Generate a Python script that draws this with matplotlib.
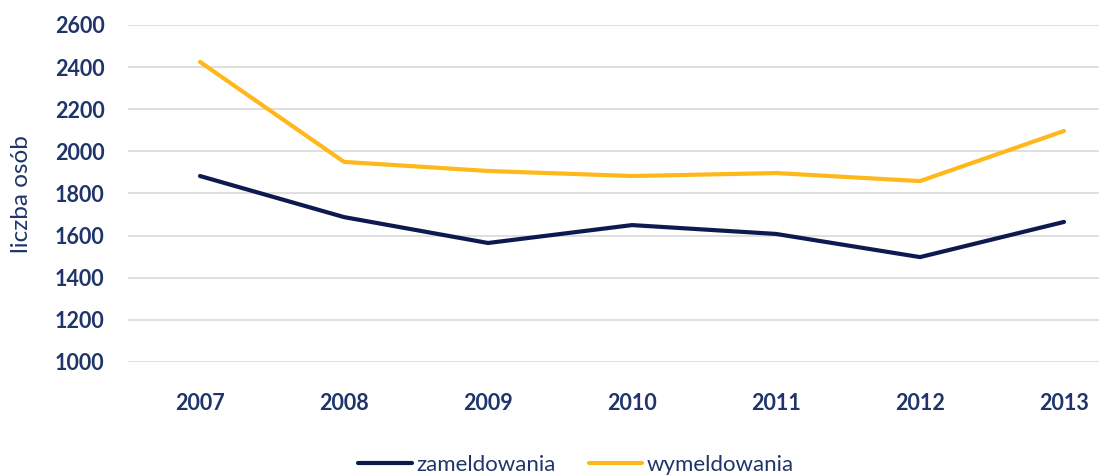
import matplotlib.pyplot as plt

years = ['2007', '2008', '2009', '2010', '2011', '2012', '2013']
zameldowania = [1883, 1688, 1565, 1650, 1608, 1498, 1665]
wymeldowania = [2425, 1950, 1907, 1883, 1897, 1859, 2097]

NAVY = '#0E1A4F'
GOLD = '#FFB81C'
TEXT = '#1F3469'

plt.rcParams['font.family'] = ['Lato', 'DejaVu Sans']

fig = plt.figure(figsize=(10.99, 4.76), dpi=100)
ax = fig.add_axes([128 / 1099, 114 / 476, 971 / 1099, 337 / 476])

x = range(len(years))
ax.plot(x, zameldowania, color=NAVY, lw=3, label='zameldowania', solid_capstyle='round')
ax.plot(x, wymeldowania, color=GOLD, lw=3, label='wymeldowania', solid_capstyle='round')

ax.set_xlim(-0.5, 6.243)
ax.set_ylim(1000, 2600)
ax.set_yticks(range(1000, 2601, 200))
ax.set_xticks(list(x))
ax.set_xticklabels(years)
ax.grid(axis='y', color='#D9D9D9', lw=1.2)
ax.set_axisbelow(True)
for s in ax.spines.values():
    s.set_visible(False)
ax.tick_params(length=0, labelsize=15.5, labelcolor=TEXT)
ax.tick_params(axis='x', pad=22)
ax.tick_params(axis='y', pad=17)
for lbl in ax.get_xticklabels() + ax.get_yticklabels():
    lbl.set_fontweight('bold')

fig.text(22 / 1099, (476 - 194) / 476, 'liczba osób', rotation=90, color=TEXT,
         fontsize=17.5, ha='center', va='center')

fig.legend(loc='center', bbox_to_anchor=(0.524, (476 - 465) / 476), ncol=2, frameon=False,
           fontsize=16, labelcolor=TEXT, handlelength=2.4, handletextpad=0.2,
           columnspacing=1.5)

fig.savefig('out.png', dpi=100)
